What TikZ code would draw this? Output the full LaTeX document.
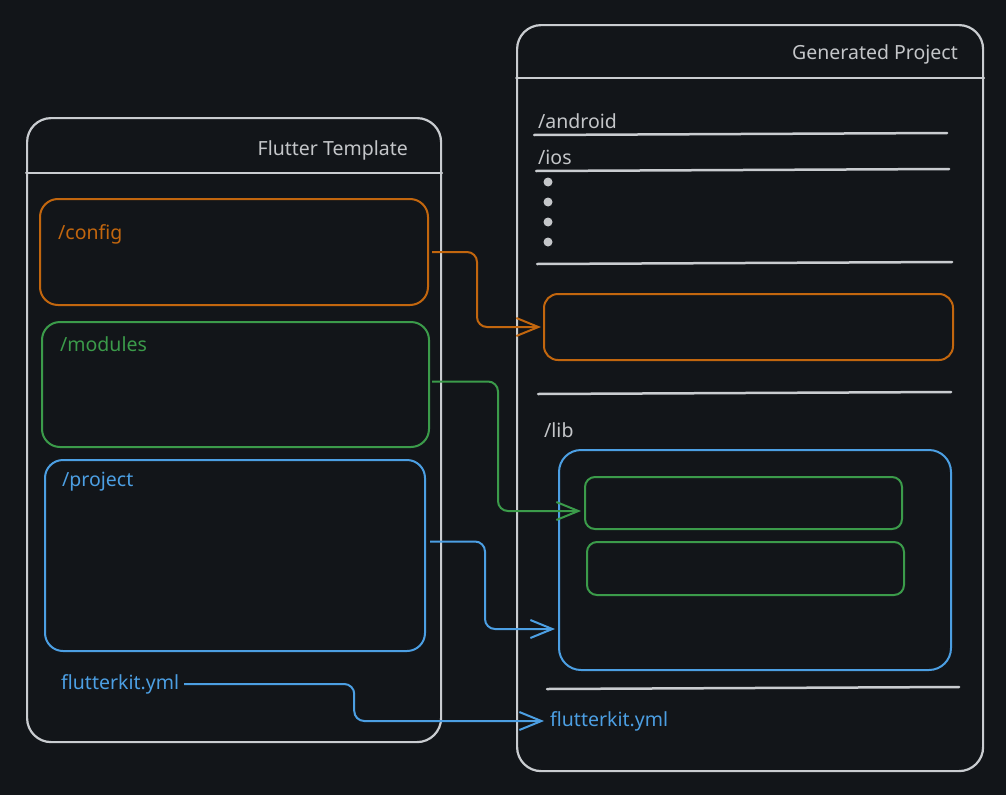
\documentclass[tikz,border=0pt]{standalone}
\usepackage{fontspec}
\setmainfont{Noto Sans}
\usetikzlibrary{arrows.meta}
\definecolor{bgdark}{HTML}{121519}
\definecolor{frameline}{HTML}{C9CCD0}
\definecolor{cfgorange}{HTML}{C2660E}
\definecolor{modgreen}{HTML}{3B9B4A}
\definecolor{projblue}{HTML}{4C9FE3}
\definecolor{textgray}{HTML}{C4C6C9}
\begin{document}
\begin{tikzpicture}[
		% 1pt entspricht einem Pixel der Vorlage
		x=1pt, y=-1pt,
		frame/.style={draw=frameline, line width=2.2pt, rounded corners=24pt, anchor=north west, inner sep=0pt},
		folder/.style={draw=#1, line width=2pt, rounded corners=18pt, anchor=north west, inner sep=0pt},
		dirname/.style={font=\fontsize{19.5}{23}\selectfont, text=#1, anchor=west, inner sep=0pt, yshift=-2pt},
		sepline/.style={draw=frameline, line width=2.5pt, line cap=round},
		link/.style={draw=#1, line width=2pt, rounded corners=10pt, -{Straight Barb[length=22pt,width=18pt]}},
		]
		\fill[bgdark] (0,0) rectangle (1006,795);
		\useasboundingbox (0,0) rectangle (1006,795);

		% Flutter Template
		\node[frame, minimum width=414, minimum height=624] (tmpl) at (26,117) {};
		\draw[sepline, line width=2pt] (tmpl.west |- 0,173) -- (tmpl.east |- 0,173);
		\node[dirname=textgray, anchor=east] (tmpltitle) at (408,148) {Flutter Template};
		\node[folder=cfgorange, minimum width=388, minimum height=106] (cfg) at (39,198) {};
		\node[dirname=cfgorange] (cfgname) at (58,232) {/config};
		\node[folder=modgreen, minimum width=387, minimum height=125] (mods) at (41,321) {};
		\node[dirname=modgreen] (modsname) at (60,342) {/modules};
		\node[folder=projblue, minimum width=380, minimum height=191] (proj) at (44,459) {};
		\node[dirname=projblue] (projname) at (62,480) {/project};
		\node[dirname=projblue] (fksrc) at (61,682) {flutterkit.yml};

		% Generated Project
		\node[frame, minimum width=466, minimum height=746] (gen) at (516,24) {};
		\draw[sepline, line width=2pt] (gen.west |- 0,78) -- (gen.east |- 0,78);
		\node[dirname=textgray, anchor=east] (gentitle) at (958,52) {Generated Project};
		\node[dirname=textgray] (android) at (538,119) {/android};
		\draw[sepline] (534,135) -- (947,133);
		\node[dirname=textgray] (ios) at (538,155) {/ios};
		\draw[sepline] (536,171) -- (949,169);
		\foreach \y in {182,202,222,242}
			\fill[textgray] (548,\y) circle[radius=4.5pt];
		\draw[sepline] (537,264) -- (952,262);
		\node[folder=cfgorange, rounded corners=14pt, minimum width=409, minimum height=66] (gencfg) at (543,293) {};
		\draw[sepline] (538,394) -- (951,392);
		\node[dirname=textgray] (lib) at (544,428) {/lib};
		\node[folder=projblue, rounded corners=22pt, minimum width=392, minimum height=220] (libbox) at (558,449) {};
		\node[folder=modgreen, rounded corners=10pt, minimum width=317, minimum height=52] (genmod) at (584,476) {};
		\node[folder=modgreen, rounded corners=10pt, minimum width=317, minimum height=53] (genmodb) at (586,541) {};
		\draw[sepline] (547,689) -- (959,687);
		\node[dirname=projblue] (fkdst) at (550,719) {flutterkit.yml};

		% Verbindungen
		\draw[link=cfgorange] ([xshift=3pt]cfg.east) -- ++(45,0) |- ([xshift=-2pt]gencfg.west);
		\draw[link=modgreen] ([shift={(2pt,3pt)}]mods.east) -- ++(66,0) |- ([shift={(-3pt,-8pt)}]genmod.west);
		\draw[link=projblue] ([shift={(4pt,14pt)}]proj.east) -- ++(55,0) |- ([shift={(-3pt,-69pt)}]libbox.west);
		\draw[link=projblue] ([xshift=5pt]fksrc.east) -- ++(170,0) |- ([xshift=-6pt]fkdst.west);
	\end{tikzpicture}
\end{document}
